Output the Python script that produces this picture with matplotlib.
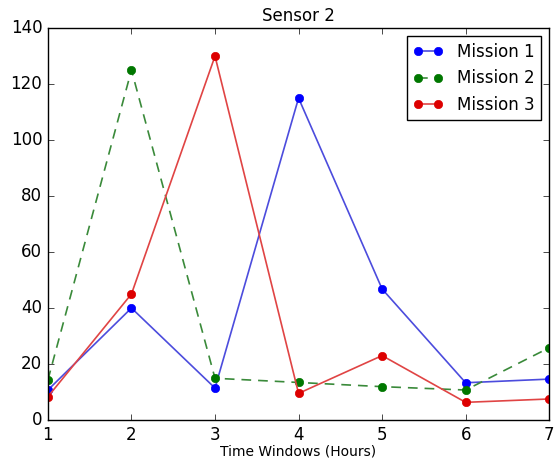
import matplotlib
matplotlib.use("Agg")
import matplotlib.pyplot as plt

plt.style.use('classic')
matplotlib.rcParams['font.family'] = 'DejaVu Sans'

hours = [1, 2, 3, 4, 5, 6, 7]
mission1 = [10.7, 40, 11.4, 115, 46.8, 13.3, 14.6]
mission2 = [14.3, 125, 14.9, 13.4, 11.9, 10.7, 25.8]
mission3 = [8.3, 45, 130, 9.5, 23, 6.3, 7.5]

fig = plt.figure(figsize=(5.57, 4.61), dpi=100, facecolor='white')
ax = fig.add_axes([0.086, 0.089, 0.9, 0.85])

ax.plot(hours, mission1, '-o', color='#4c4cdd', mfc='#0000ff', mec='#0000ff',
        markersize=6, linewidth=1.2, label='Mission 1')
ax.plot(hours, mission2, '--o', color='#3a8a3a', mfc='#007700', mec='#007700',
        markersize=6, linewidth=1.2, dashes=(7, 5), label='Mission 2')
ax.plot(hours, mission3, '-o', color='#e04444', mfc='#dd0000', mec='#dd0000',
        markersize=6, linewidth=1.2, label='Mission 3')

ax.set_xlim(1, 7)
ax.set_ylim(0, 140)
ax.set_title('Sensor 2', fontsize=12)
ax.set_xlabel('Time Windows (Hours)', fontsize=10, labelpad=1)
ax.tick_params(labelsize=12)
ax.legend(loc='upper right', fontsize=12, numpoints=2, handlelength=1.8)

plt.savefig('out.png', dpi=100, facecolor='white')
